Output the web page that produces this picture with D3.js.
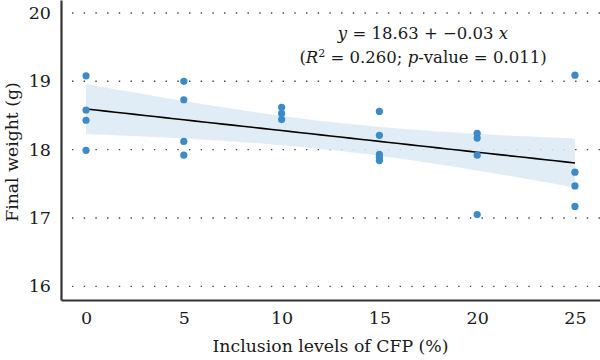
<!DOCTYPE html>
<html>

<head>
    <meta charset="utf-8">
    <title></title>
    <script src="https://d3js.org/d3.v7.min.js"></script>
    <style>
        html,
        body {
            margin: 0;
            padding: 0;
            background: white;
        }

        text {
            font-family: "DejaVu Serif", serif;
            fill: #1a1a1a;
        }
    </style>
</head>

<body>

    <div id="chart"></div>

    <script>
        // Inclusion level (%) for each fish, and its final weight (g)
        const inclusionLevels = [0, 0, 0, 0, 5, 5, 5, 5, 10, 10, 10, 15, 15, 15, 15, 15, 20, 20, 20, 20, 25, 25, 25, 25];
        const finalWeights = [19.08, 18.58, 18.43, 17.99, 19.00, 18.73, 18.12, 17.92, 18.62, 18.53, 18.44,
            18.56, 18.21, 17.93, 17.89, 17.84, 18.24, 18.17, 17.92, 17.05, 19.09, 17.67, 17.47, 17.17];

        const xTicks = [0, 5, 10, 15, 20, 25];
        const yTicks = [16, 17, 18, 19, 20];

        const dataset = inclusionLevels.map((x, i) => ({ x: x, y: finalWeights[i] }));

        // Set up margins and dimensions
        const margins = { top: 0, right: 0, bottom: 60, left: 61 };
        const width = 600 - margins.left - margins.right;
        const height = 360 - margins.top - margins.bottom;

        const canvas = d3.select("#chart")
            .append("svg")
            .attr("width", 600)
            .attr("height", 360);

        const chartArea = canvas.append("g")
            .attr("transform", `translate(${margins.left},${margins.top})`);

        const xScale = d3.scaleLinear().domain([-1.28, 26.28]).range([0, width]);
        const yScale = d3.scaleLinear().domain([15.8, 20.19]).range([height, 0]);

        // dotted grid lines
        chartArea.selectAll(".grid")
            .data(yTicks)
            .enter()
            .append("line")
            .attr("x1", 0)
            .attr("x2", width)
            .attr("y1", (d) => yScale(d))
            .attr("y2", (d) => yScale(d))
            .attr("stroke", "#444")
            .attr("stroke-width", 1.4)
            .attr("stroke-dasharray", "1.4,10.3")
            .attr("stroke-dashoffset", -11);

        // linear fit + 95% confidence band
        const n = dataset.length;
        const xMean = d3.mean(dataset, (d) => d.x);
        const yMean = d3.mean(dataset, (d) => d.y);
        const sxx = d3.sum(dataset, (d) => (d.x - xMean) ** 2);
        const sxy = d3.sum(dataset, (d) => (d.x - xMean) * (d.y - yMean));
        const slope = sxy / sxx;
        const intercept = yMean - slope * xMean;
        const sse = d3.sum(dataset, (d) => (d.y - (intercept + slope * d.x)) ** 2);
        const s = Math.sqrt(sse / (n - 2));
        const tCrit = 2.074; // t(0.975, df = 22)

        const xs = d3.range(0, 25.01, 0.5);
        const band = xs.map((x) => {
            const fit = intercept + slope * x;
            const se = s * Math.sqrt(1 / n + (x - xMean) ** 2 / sxx);
            return { x: x, lo: fit - tCrit * se, hi: fit + tCrit * se, fit: fit };
        });

        chartArea.append("path")
            .datum(band)
            .attr("fill", "#dceaf4")
            .attr("fill-opacity", 0.85)
            .attr("d", d3.area()
                .x((d) => xScale(d.x))
                .y0((d) => yScale(d.lo))
                .y1((d) => yScale(d.hi)));

        chartArea.append("path")
            .datum(band)
            .attr("fill", "none")
            .attr("stroke", "black")
            .attr("stroke-width", 1.6)
            .attr("d", d3.line()
                .x((d) => xScale(d.x))
                .y((d) => yScale(d.fit)));

        // points
        chartArea.selectAll(".dot")
            .data(dataset)
            .enter()
            .append("circle")
            .attr("cx", (d) => xScale(d.x))
            .attr("cy", (d) => yScale(d.y))
            .attr("r", 3.6)
            .attr("fill", "#3b8bc9");

        // axes
        const xAxis = chartArea.append("g")
            .attr("transform", `translate(0,${height})`)
            .call(d3.axisBottom(xScale).tickValues(xTicks).tickFormat(d3.format("d"))
                .tickSize(0).tickSizeOuter(0).tickPadding(12));

        const yAxis = chartArea.append("g")
            .call(d3.axisLeft(yScale).tickValues(yTicks).tickFormat(d3.format("d"))
                .tickSize(0).tickSizeOuter(0).tickPadding(10));

        [xAxis, yAxis].forEach((ax) => {
            ax.attr("font-family", null);
            ax.select(".domain").attr("stroke", "#333").attr("stroke-width", 2.2);
            ax.selectAll("text")
                .style("font-size", "17.5px")
                .attr("fill", "#1a1a1a");
        });

        // axis titles
        canvas.append("text")
            .attr("x", margins.left + width / 2)
            .attr("y", 352)
            .attr("text-anchor", "middle")
            .style("font-size", "17.3px")
            .text("Inclusion levels of CFP (%)");

        canvas.append("text")
            .attr("transform", `translate(18,${margins.top + height / 2 + 2}) rotate(-90)`)
            .attr("text-anchor", "middle")
            .style("font-size", "17.3px")
            .text("Final weight (g)");

        // equation annotation
        const eq = canvas.append("g").attr("transform", "translate(423,0)");

        const t1 = eq.append("text")
            .attr("y", 39)
            .attr("text-anchor", "middle")
            .style("font-size", "16.5px");
        t1.append("tspan").style("font-style", "italic").text("y");
        t1.append("tspan").text(" = 18.63 + −0.03 ");
        t1.append("tspan").style("font-style", "italic").text("x");

        const t2 = eq.append("text")
            .attr("y", 63)
            .attr("text-anchor", "middle")
            .style("font-size", "16.5px");
        t2.append("tspan").text("(");
        t2.append("tspan").style("font-style", "italic").text("R");
        t2.append("tspan").attr("baseline-shift", "super").style("font-size", "11px").text("2");
        t2.append("tspan").text(" = 0.260; ");
        t2.append("tspan").style("font-style", "italic").text("p");
        t2.append("tspan").text("-value = 0.011)");
    </script>
</body>

</html>
